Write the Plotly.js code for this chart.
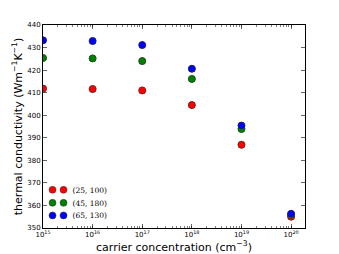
<!DOCTYPE html>
<html>
<head>
<meta charset="utf-8">
<script src="https://cdn.plot.ly/plotly-3.0.1.min.js"></script>
<style>html,body{margin:0;padding:0;background:#fff;}#chart{width:339px;height:254px;}</style>
</head>
<body>
<div id="chart"></div>
<script>
var carrier = [1e15, 1e16, 1e17, 1e18, 1e19, 1e20];
var xTickText = ['10<sup>15</sup>', '10<sup>16</sup>', '10<sup>17</sup>', '10<sup>18</sup>', '10<sup>19</sup>', '10<sup>20</sup>'];
var series1 = [411.8, 411.6, 411.0, 404.5, 386.9, 355.0];
var series2 = [425.4, 425.2, 424.0, 416.1, 393.9, 355.8];
var series3 = [433.2, 432.9, 431.1, 420.6, 395.4, 356.3];
var names = ['(25, 100)', '(45, 180)', '(65, 130)'];
var colors = ['#ff0000', '#008000', '#0000ff'];
var yTicks = [350, 360, 370, 380, 390, 400, 410, 420, 430, 440];

var all = [series1, series2, series3];
var legendY = [0.188, 0.124, 0.062];
var traces = [];
var layout = {
  width: 339, height: 254,
  margin: {l: 43, r: 34, t: 25, b: 26},
  paper_bgcolor: '#fff', plot_bgcolor: '#fff',
  font: {family: 'DejaVu Sans', color: '#000', size: 8},
  showlegend: true,
  xaxis: {
    type: 'log', range: [15, 20.28], autorange: false,
    tickvals: carrier, ticktext: xTickText,
    ticks: 'inside', ticklen: 4, tickwidth: 0.6, tickcolor: '#000',
    minor: {ticks: 'inside', ticklen: 2, tickcolor: '#000', tickwidth: 0.5, dtick: 'D1'},
    showline: true, linecolor: '#000', linewidth: 1, mirror: 'ticks',
    showgrid: false, zeroline: false,
    tickfont: {size: 7, family: 'DejaVu Sans'},
    title: {text: 'carrier concentration (cm<sup>\u22123</sup>)', font: {size: 11, family: 'DejaVu Sans'}, standoff: 1}
  },
  yaxis: {
    range: [350, 440], autorange: false,
    tickvals: yTicks,
    ticks: 'inside', ticklen: 4, tickwidth: 0.6, tickcolor: '#000',
    showline: true, linecolor: '#000', linewidth: 1, mirror: 'ticks',
    showgrid: false, zeroline: false,
    tickfont: {size: 7, family: 'DejaVu Sans'},
    title: {text: 'thermal conductivity (Wm<sup>\u22121</sup>K<sup>\u22121</sup>)', font: {size: 11, family: 'DejaVu Sans'}, standoff: 2}
  }
};

function legendBox(x, y) {
  return {
    x: x, y: y, xanchor: 'left', yanchor: 'middle',
    bgcolor: 'rgba(0,0,0,0)', borderwidth: 0,
    font: {family: 'DejaVu Serif', size: 7.5},
    itemwidth: 30
  };
}

// main traces with their legend entries (first marker + label)
all.forEach(function (s, i) {
  var lg = 'legend' + (i === 0 ? '' : (i + 1));
  traces.push({
    x: carrier, y: s, type: 'scatter', mode: 'markers', name: names[i],
    legend: lg,
    marker: {color: colors[i], size: 7, line: {color: '#333', width: 0.5}}
  });
  layout[lg] = legendBox(-0.04, legendY[i]);
});
// same series again, giving the second legend marker (matplotlib numpoints=2 look)
all.forEach(function (s, i) {
  var lg = 'legend' + (i + 4);
  traces.push({
    x: carrier, y: s, type: 'scatter', mode: 'markers', name: ' ',
    legend: lg,
    marker: {color: colors[i], size: 7, line: {color: '#333', width: 0.5}}
  });
  layout[lg] = legendBox(0.002, legendY[i]);
});

Plotly.newPlot('chart', traces, layout, {displayModeBar: false, staticPlot: true});
</script>
</body>
</html>
